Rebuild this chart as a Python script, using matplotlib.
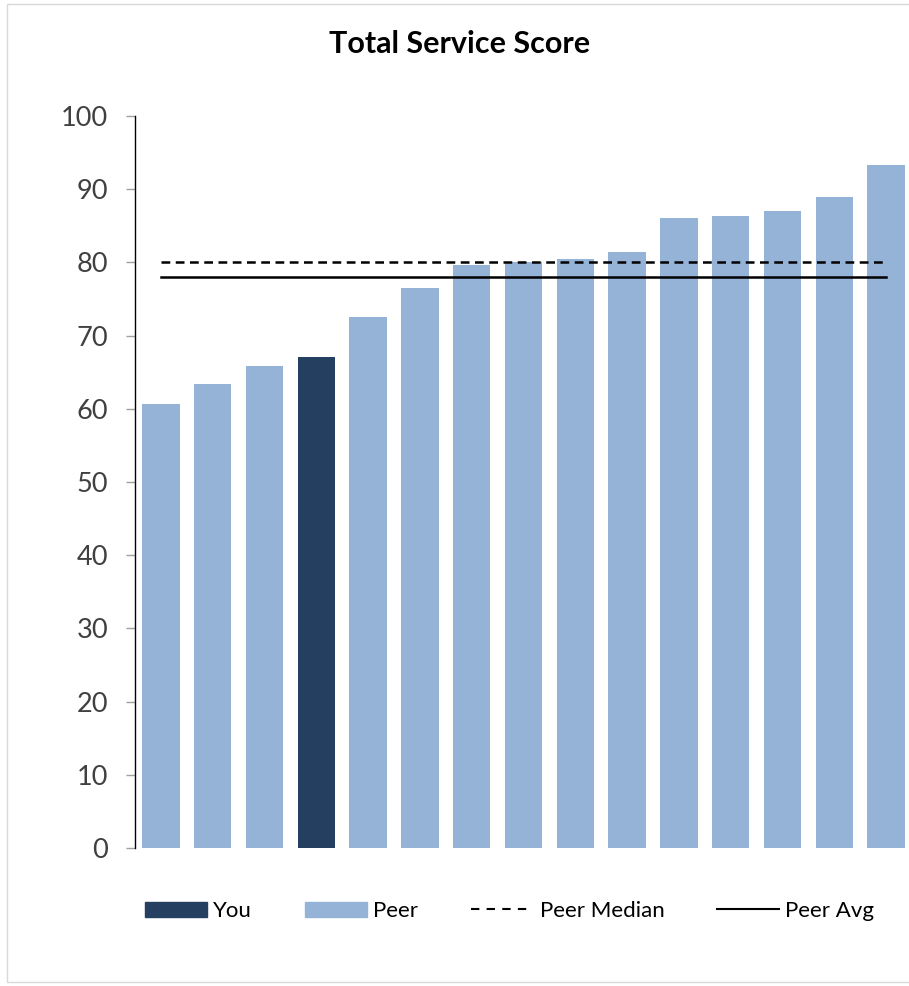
import matplotlib
matplotlib.use('Agg')
import matplotlib.pyplot as plt
from matplotlib.patches import Rectangle, Patch
from matplotlib.lines import Line2D

plt.rcParams['font.family'] = ['Lato', 'DejaVu Sans']

# data
scores = [60.6, 63.4, 65.8, 67.1, 72.5, 76.5, 79.6, 80.0, 80.5, 81.4, 86.1, 86.4, 87.0, 88.9, 93.3]
is_you = [False, False, False, True, False, False, False, False, False, False, False, False, False, False, False]
peer_median = 80.1
peer_avg = 78.0
yticks = [0, 10, 20, 30, 40, 50, 60, 70, 80, 90, 100]

c_peer = '#95B3D7'
c_you = '#243F60'

fig = plt.figure(figsize=(9.09, 9.86), dpi=100)
fig.patches.append(Rectangle((7/909, 4/986), 1.2, 978/986, transform=fig.transFigure,
                             fill=False, edgecolor='#d9d9d9', linewidth=1))

ax = fig.add_axes([135/909, 1 - 848/986, 777/909, 732/986])
x = list(range(len(scores)))
colors = [c_you if y else c_peer for y in is_you]
ax.bar(x, scores, width=0.72, color=colors, zorder=2)
ax.plot(x, [peer_median] * len(x), color='black', lw=1.8, ls=(0, (3.5, 2.2)), zorder=3)
ax.plot(x, [peer_avg] * len(x), color='black', lw=1.8, zorder=3)

ax.set_xlim(-0.5, len(scores) - 0.5)
ax.set_ylim(0, 100)
ax.set_yticks(yticks)
ax.set_xticks([])
for s in ['top', 'right', 'bottom']:
    ax.spines[s].set_visible(False)
ax.spines['left'].set_color('black')
ax.spines['left'].set_linewidth(1)
ax.tick_params(axis='y', length=6.5, width=1, color='#a0a0a0', labelsize=19.5,
               labelcolor='#404040', pad=13)

fig.text(0.506, 1 - 44/986, 'Total Service Score', ha='center', va='center',
         fontsize=22, fontweight='bold')

handles = [Patch(color=c_you), Patch(color=c_peer),
           Line2D([], [], color='black', lw=1.5, ls=(0, (4, 3.5))),
           Line2D([], [], color='black', lw=1.5)]
labels = ['You', 'Peer', 'Peer Median', 'Peer Avg']
fig.legend(handles, labels, loc='center', bbox_to_anchor=(0.5605, 1 - 911/986), ncol=4,
           frameon=False, fontsize=16, handlelength=2.8, handleheight=0.65,
           handletextpad=0.3, columnspacing=2.35)

fig.savefig('out.png', dpi=100)
